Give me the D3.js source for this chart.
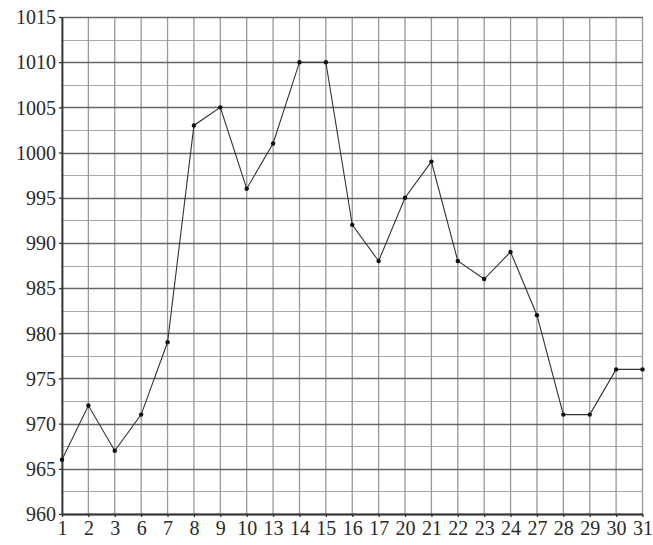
<!DOCTYPE html>
<html>
<head>
<meta charset="utf-8">
<script src="https://cdn.jsdelivr.net/npm/d3@7"></script>
<style>
  body { margin: 0; background: #fff; }
</style>
</head>
<body>
<div id="chart"></div>
<script>
// days of the month shown on the x axis
var days = ["1", "2", "3", "6", "7", "8", "9", "10", "13", "14", "15", "16", "17", "20", "21", "22", "23", "24", "27", "28", "29", "30", "31"];
// pressure readings
var pressure = [966, 972, 967, 971, 979, 1003, 1005, 996, 1001, 1010, 1010, 992, 988, 995, 999, 988, 986, 989, 982, 971, 971, 976, 976];
var yTicks = [960, 965, 970, 975, 980, 985, 990, 995, 1000, 1005, 1010, 1015];
var yMinor = [962.5, 967.5, 972.5, 977.5, 982.5, 987.5, 992.5, 997.5, 1002.5, 1007.5, 1012.5];

var margin = { top: 17, right: 10, bottom: 31, left: 62 },
    width = 653 - margin.left - margin.right,
    height = 545 - margin.top - margin.bottom;

var svg = d3.select("#chart").append("svg")
  .attr("width", 653).attr("height", 545);
var g = svg.append("g").attr("transform", "translate(" + margin.left + "," + margin.top + ")");

var x = d3.scalePoint().domain(days).range([0, width - 0.5]);
var y = d3.scaleLinear().domain([960, 1015]).range([height, 0]);

// minor horizontal grid
g.append("g").selectAll("line").data(yMinor).enter().append("line")
  .attr("x1", 0).attr("x2", width - 0.5)
  .attr("y1", function(d) { return Math.round(y(d)) + 0.5; })
  .attr("y2", function(d) { return Math.round(y(d)) + 0.5; })
  .style("stroke", "#a8a8a8").style("stroke-width", 1.2);

// vertical grid
g.append("g").selectAll("line").data(days).enter().append("line")
  .attr("x1", function(d) { return x(d); }).attr("x2", function(d) { return x(d); })
  .attr("y1", 0).attr("y2", height)
  .style("stroke", "#999").style("stroke-width", 1.3);

// major horizontal grid
g.append("g").selectAll("line").data(yTicks).enter().append("line")
  .attr("x1", 0).attr("x2", width - 0.5)
  .attr("y1", function(d) { return Math.round(y(d)) + 0.5; })
  .attr("y2", function(d) { return Math.round(y(d)) + 0.5; })
  .style("stroke", "#666").style("stroke-width", 1.4);

var xAxis = d3.axisBottom(x).tickSize(3).tickSizeOuter(0).tickPadding(4);
var yAxis = d3.axisLeft(y).tickValues(yTicks).tickFormat(d3.format("d"))
  .tickSize(3).tickSizeOuter(0).tickPadding(3);

var gx = g.append("g").attr("transform", "translate(0," + height + ")").call(xAxis);
var gy = g.append("g").call(yAxis);
[gx, gy].forEach(function(a) {
  a.attr("font-family", "Liberation Serif").attr("font-size", 20);
  a.select(".domain").style("stroke", "#333").style("stroke-width", 1.8);
  a.selectAll(".tick line").style("stroke", "#333").style("stroke-width", 1.3);
  a.selectAll("text").attr("fill", "#2a2a2a");
});
gy.selectAll("text").attr("dy", "0.34em");

var line = d3.line()
  .x(function(d, i) { return x(days[i]); })
  .y(function(d) { return y(d); });

g.append("path").datum(pressure)
  .attr("d", line)
  .style("fill", "none").style("stroke", "#333").style("stroke-width", 1.1);

g.append("g").selectAll("circle").data(pressure).enter().append("circle")
  .attr("cx", function(d, i) { return x(days[i]); })
  .attr("cy", function(d) { return y(d); })
  .attr("r", 2.2)
  .style("fill", "#111");
</script>
</body>
</html>
